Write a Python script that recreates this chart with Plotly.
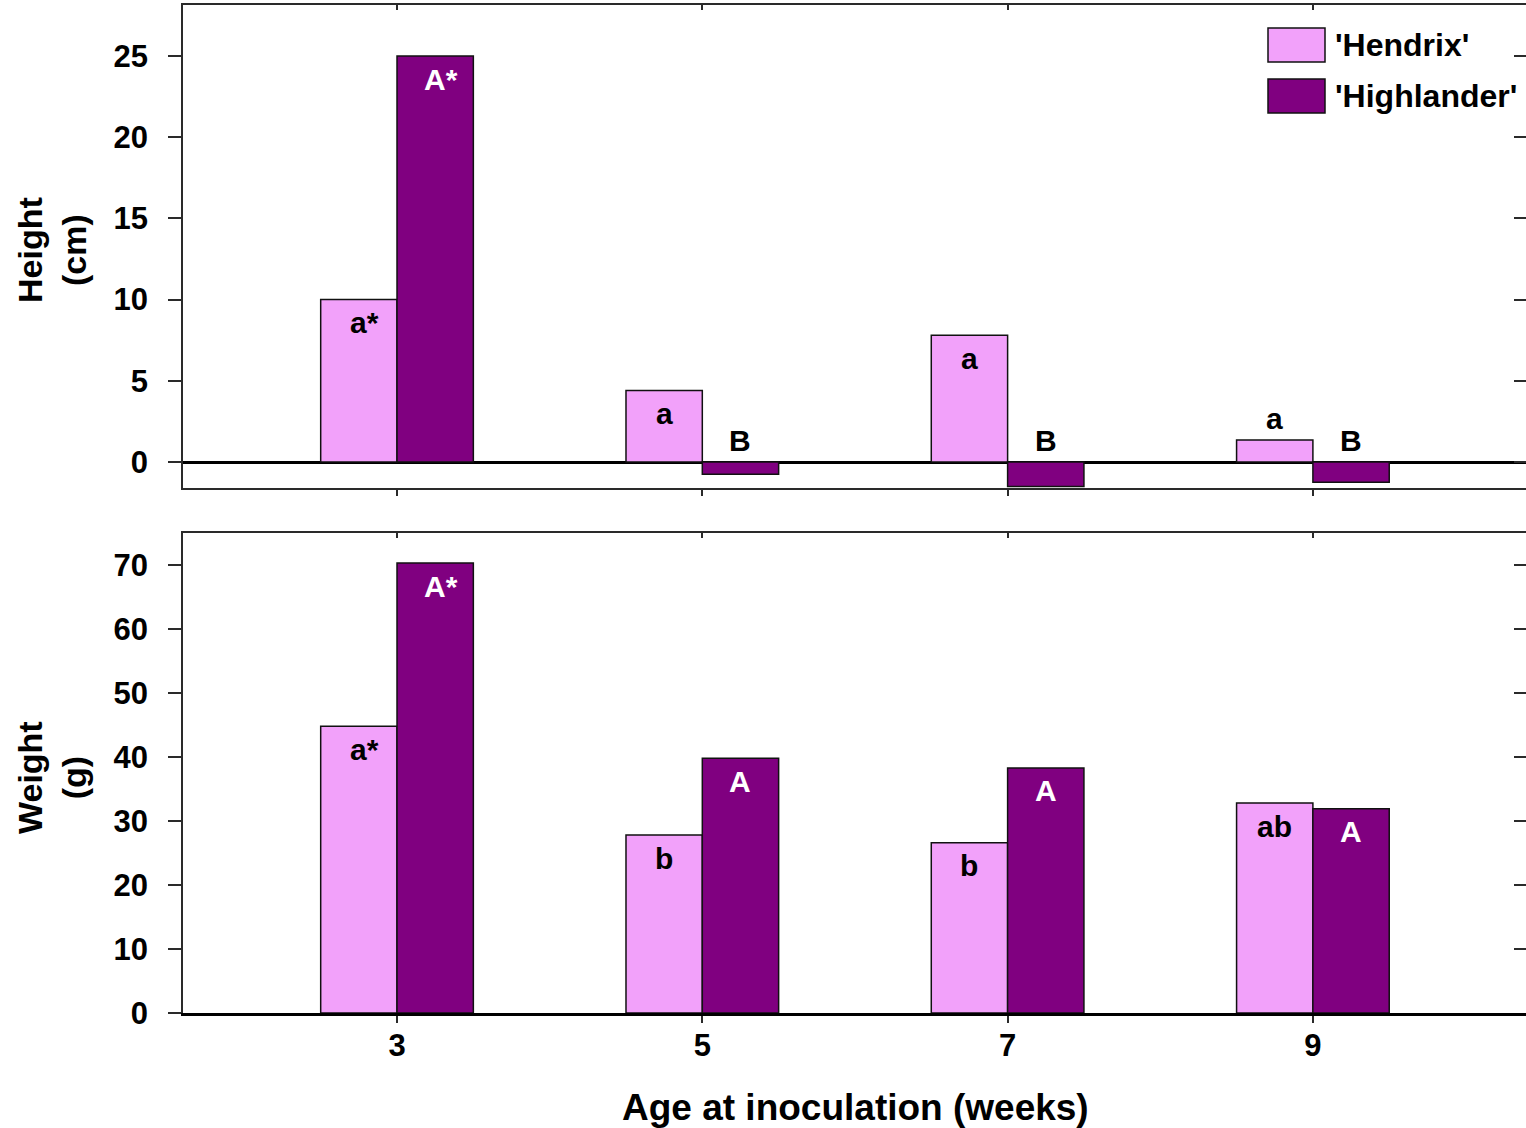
import plotly.graph_objects as go

# Inoculation ages (weeks) and the two cultivars
ages = ["3", "5", "7", "9"]
cultivars = ["'Hendrix'", "'Highlander'"]

# Plant height (cm)
height_hendrix = [10.0, 4.4, 7.8, 1.35]
height_highlander = [25.0, -0.75, -1.5, -1.25]
height_letters_hendrix = ["a*", "a", "a", "a"]
height_letters_highlander = ["A*", "B", "B", "B"]

# Plant weight (g)
weight_hendrix = [44.8, 27.8, 26.6, 32.8]
weight_highlander = [70.3, 39.8, 38.3, 31.9]
weight_letters_hendrix = ["a*", "b", "b", "ab"]
weight_letters_highlander = ["A*", "A", "A", "A"]

height_ticks = [0, 5, 10, 15, 20, 25]
weight_ticks = [0, 10, 20, 30, 40, 50, 60, 70]

PINK = "#F2A1FA"
PURPLE = "#800080"
FONT = "Arial, Liberation Sans, sans-serif"
AXIS_LINE = "#2a2a2a"

W, H = 1526, 1128
ML, MR, MT, MB = 183, 0, 5, 115
PW, PH = W - ML - MR, H - MT - MB

def px_x(px):
    return (px - ML) / PW

def px_y(py):
    return (H - MB - py) / PH

TOP_DOMAIN = [px_y(488), px_y(5)]
BOT_DOMAIN = [px_y(1013), px_y(533)]
X_RANGE = [-0.701, 3.698]
H_RANGE = [-1.6, 28.14]
W_RANGE = [0, 75]
BAR_W = 0.25
pos = list(range(len(ages)))

fig = go.Figure()

panels = [
    ("x", "y", height_hendrix, height_highlander),
    ("x2", "y2", weight_hendrix, weight_highlander),
]
for xa, ya, hen, hig in panels:
    for name, vals, col in ((cultivars[0], hen, PINK), (cultivars[1], hig, PURPLE)):
        fig.add_trace(go.Bar(
            x=pos, y=vals, name=name, xaxis=xa, yaxis=ya,
            marker=dict(color=col, line=dict(color="#111111", width=1.5)),
            showlegend=False,
        ))

# empty traces so the frame axes (top / right ticks) get drawn
for xa, ya in (("x3", "y"), ("x4", "y2"), ("x", "y3"), ("x2", "y4")):
    fig.add_trace(go.Scatter(x=[None], y=[None], xaxis=xa, yaxis=ya,
                             showlegend=False, hoverinfo="skip"))

fig.update_layout(barmode="group", bargap=0.5, bargroupgap=0)

# Letter annotations for mean separation
def letter(xa, ya, xc, val, txt, color, threshold):
    if val < 0:
        y, yshift = 0, 22
    elif val < threshold:
        y, yshift = val, 22
    else:
        y, yshift = val, -23
    fig.add_annotation(
        x=xc, y=y, xref=xa, yref=ya, text=txt, showarrow=False,
        xanchor="center", yanchor="middle", yshift=yshift,
        xshift=6 if "*" in txt else 0,
        font=dict(family=FONT, size=30, color=color, weight="bold"),
    )

for j in pos:
    letter("x", "y", j - BAR_W / 2, height_hendrix[j], height_letters_hendrix[j], "black", 3)
    letter("x", "y", j + BAR_W / 2, height_highlander[j], height_letters_highlander[j],
           "white" if height_highlander[j] > 0 else "black", 3)
    letter("x2", "y2", j - BAR_W / 2, weight_hendrix[j], weight_letters_hendrix[j], "black", 8)
    letter("x2", "y2", j + BAR_W / 2, weight_highlander[j], weight_letters_highlander[j], "white", 8)

tickfont = dict(family=FONT, size=31, color="black", weight="bold")

common_x = dict(range=X_RANGE, tickvals=pos, ticktext=ages, showgrid=False,
                zeroline=False, showline=True, linecolor=AXIS_LINE, tickcolor=AXIS_LINE,
                tickwidth=1.5)
common_y = dict(showgrid=False, showline=True, linecolor=AXIS_LINE, tickcolor=AXIS_LINE,
                tickwidth=1.5, ticks="outside", ticklen=13, tickfont=tickfont,
                ticklabelstandoff=14)
frame_y = dict(side="right", ticks="inside", ticklen=12, tickwidth=1.5,
               tickcolor=AXIS_LINE, showline=False, showgrid=False, zeroline=False,
               showticklabels=False)

fig.update_layout(
    xaxis=dict(common_x, domain=[0, 1], anchor="y", ticks="outside", ticklen=6,
               showticklabels=False, linewidth=1.5),
    xaxis2=dict(common_x, domain=[0, 1], anchor="y2", ticks="outside", ticklen=7,
                showticklabels=True, tickfont=tickfont, linewidth=2.5,
                linecolor="black", ticklabelstandoff=-4),
    yaxis=dict(common_y, domain=TOP_DOMAIN, anchor="x", range=H_RANGE,
               tickvals=height_ticks, linewidth=1.5, zeroline=True,
               zerolinecolor="black", zerolinewidth=2.5),
    yaxis2=dict(common_y, domain=BOT_DOMAIN, anchor="x2", range=W_RANGE,
                tickvals=weight_ticks, linewidth=1.5, zeroline=False),
    # frame tops with inward ticks
    xaxis3=dict(common_x, overlaying="x", anchor="y", side="top", ticks="inside",
                ticklen=5, showticklabels=False, linewidth=1.5),
    xaxis4=dict(common_x, overlaying="x2", anchor="y2", side="top", ticks="inside",
                ticklen=5, showticklabels=False, linewidth=1.5),
    # right-hand inward ticks
    yaxis3=dict(frame_y, overlaying="y", anchor="x", range=H_RANGE, tickvals=height_ticks),
    yaxis4=dict(frame_y, overlaying="y2", anchor="x2", range=W_RANGE, tickvals=weight_ticks),
)

# Axis titles
title_font = dict(family=FONT, size=34, color="black", weight="bold")
fig.add_annotation(text="Height<br>(cm)", xref="paper", yref="paper",
                   x=px_x(52), y=px_y(250), textangle=-90, showarrow=False,
                   xanchor="center", yanchor="middle", font=title_font)
fig.add_annotation(text="Weight<br>(g)", xref="paper", yref="paper",
                   x=px_x(52), y=px_y(778), textangle=-90, showarrow=False,
                   xanchor="center", yanchor="middle", font=title_font)
fig.add_annotation(text="Age at inoculation (weeks)", xref="paper", yref="paper",
                   x=px_x(855), y=px_y(1107), showarrow=False,
                   xanchor="center", yanchor="middle",
                   font=dict(family=FONT, size=37, color="black", weight="bold"))

# Legend drawn as swatches with labels
legend_rows = [(cultivars[0], PINK, 28), (cultivars[1], PURPLE, 79)]
for name, col, top in legend_rows:
    fig.add_shape(type="rect", xref="paper", yref="paper",
                  x0=px_x(1268), x1=px_x(1325), y0=px_y(top + 34), y1=px_y(top),
                  fillcolor=col, line=dict(color="#111111", width=1.5))
    fig.add_annotation(text=name, xref="paper", yref="paper",
                       x=px_x(1333), y=px_y(top + 17), showarrow=False,
                       xanchor="left", yanchor="middle",
                       font=dict(family=FONT, size=32, color="black", weight="bold"))

fig.update_layout(
    width=W, height=H,
    margin=dict(l=ML, r=MR, t=MT, b=MB, autoexpand=False),
    paper_bgcolor="white", plot_bgcolor="white",
    showlegend=False,
)

fig.write_html("out.html")
